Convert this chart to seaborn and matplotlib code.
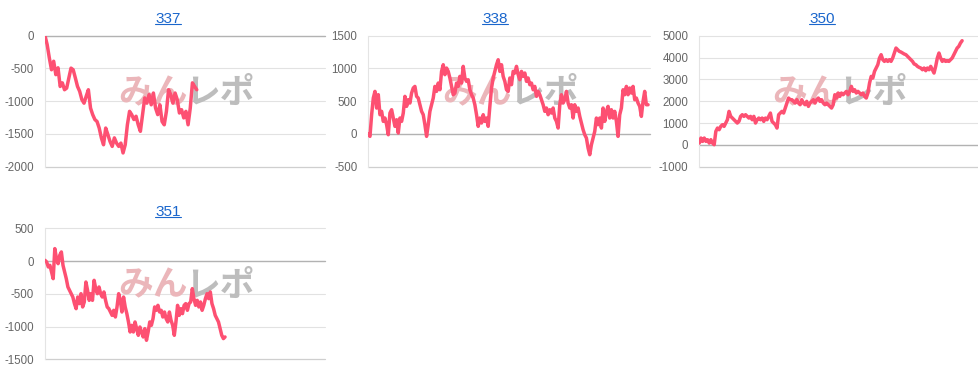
import matplotlib
matplotlib.use("Agg")
import matplotlib.pyplot as plt
import matplotlib.transforms as mtransforms
from matplotlib.lines import Line2D
import pandas as pd
import seaborn as sns

# ---------------- data ----------------
titles = ["337", "338", "350", "351"]

s337 = [0, -137, -340, -520, -390, -595, -490, -775, -720, -825, -800, -645, -495, -520,
        -645, -775, -850, -975, -1030, -925, -825, -1105, -1205, -1280, -1310, -1410,
        -1560, -1665, -1410, -1510, -1615, -1690, -1560, -1640, -1690, -1640, -1790,
        -1665, -1360, -1155, -1205, -1280, -1230, -1360, -1460, -1205, -950, -1030,
        -900, -1055, -875, -1105, -1205, -1055, -1310, -1360, -1155, -825, -900, -1030,
        -875, -975, -1180, -1130, -1255, -1155, -1360, -1105, -720, -775, -825]

s338 = [0, -37, 294, 548, 650, 395, 600, 294, 345, 192, 243, 141, -12, 319, 370, 243, 116,
        217, 14, 243, 192, 319, 574, 421, 523, 472, 624, 701, 726, 574, 548, 446, 345,
        294, 141, -37, 141, 345, 446, 548, 726, 650, 777, 675, 955, 1057, 905, 1006, 955,
        854, 726, 599, 624, 777, 726, 879, 777, 1032, 854, 803, 828, 675, 599, 548, 446,
        294, 116, 243, 167, 294, 192, 243, 116, 421, 701, 854, 955, 1057, 1133, 955, 1057,
        879, 803, 675,
        650, 854, 752, 955, 930, 1032, 905, 828, 955, 879, 930, 803, 854, 752, 777, 675,
        726, 574, 650, 599, 523, 446, 345, 396, 294, 370, 319, 396, 243, 192, 90, 446,
        599, 472, 523, 650, 472, 396, 446, 243, 446, 345, 396, 268, 167, 65, -12, -63,
        -215, -317, -164, -63, 39, 243, 141, 243, 90, 396, 192, 345, 421, 243, 370, 243,
        345, 192, -37, 294, 396, 675, 599, 726, 599, 701, 624, 726, 523, 548, 472, 421,
        268, 497, 650, 446, 446]

s350 = [83, 312, 160, 312, 160, 236, 83, 236, 83, 7, 618, 770, 694, 847, 923, 847, 1000,
        1152, 1534, 1305, 1228, 1152, 1076, 1000, 1076, 1305, 1381, 1305, 1381, 1305,
        1228, 1305, 1152, 1305, 1000, 1152, 1228, 1152, 1228, 1076, 1228, 1152, 1305,
        1457, 1076, 1000, 923, 770, 1381, 1457, 1534, 1457, 1686, 1915, 2145, 2068, 2068,
        1992, 1915, 2068, 1915, 1839, 2068, 1915, 1839, 1992, 1763, 1915, 1992, 2068,
        1915, 2068, 2145, 1992, 2068, 1915, 1839, 1915, 1839, 1763, 1686, 1839,
        2297, 2145, 2374, 2221, 2374, 2297, 2374, 2450, 2297, 2450, 2679, 2450, 2526,
        2374, 2450, 2374, 2297, 2374, 2221, 2145, 2374, 2832, 3137, 3061, 3366, 3519,
        3672, 3977, 4130, 3901, 3824, 3901, 3824, 3901, 3824, 3977, 4206, 4435, 4359,
        4282, 4252, 4206, 4160, 4130, 4053, 3977, 3901, 3824, 3702, 3672, 3595, 3549,
        3519, 3442, 3519, 3397, 3519, 3442, 3595, 3442, 3290, 3595, 3977, 4206, 3977,
        3824, 3901, 3824, 3855, 3824, 3901, 3977, 4130, 4282, 4435, 4511, 4664, 4771]

s351 = [11, -14, -90, -65, -167, -269, 190, 37, -40, 88, 139, -65, -167, -269, -396, -447,
        -498, -549, -650, -727, -549, -650, -498, -701, -625, -320, -447, -600, -498, -600,
        -294, -421, -498, -396, -498, -549, -472, -600, -701, -727, -778, -829, -752, -854,
        -701, -498, -600, -778, -549, -701, -803, -930, -1083, -981, -1083, -930, -1032,
        -1134, -1007, -1083, -1159, -1032, -1210, -1083, -930, -981, -879, -701, -752,
        -676, -778, -752, -854, -778, -879, -930, -778, -905, -981, -1134, -930, -676,
        -829, -727, -803, -676, -650, -752, -650, -625, -421, -574, -676, -600, -701,
        -625, -752, -676, -574, -498, -574, -472, -650, -727, -829, -879, -930, -1032,
        -1134, -1184, -1159]

series = [s337, s338, s350, s351]

yticks_list = [
    [-2000, -1500, -1000, -500, 0],
    [-500, 0, 500, 1000, 1500],
    [-1000, 0, 1000, 2000, 3000, 4000, 5000],
    [-1500, -1000, -500, 0, 500],
]

# ---------------- layout (pixels) ----------------
W, H = 979, 382
# left, top, right, bottom of each plot area
rects = [(45, 35.7, 325, 166.7), (368.3, 35.7, 650, 166.7),
         (699.3, 35.7, 978, 166.7), (45, 228.3, 325, 359.3)]
title_pos = [(168, 22.7), (495, 22.7), (822, 22.7), (168, 215.5)]
data_frac = [0.542, 0.993, 0.943, 0.643]

LINE_COLOR = "#fd5072"

sns.set_theme(style="white")
plt.rcParams["font.family"] = ["Liberation Sans", "DejaVu Sans"]

fig = plt.figure(figsize=(W / 100, H / 100), dpi=100)
fig.patch.set_facecolor("white")

title_texts = []
for i in range(4):
    l, t, r, b = rects[i]
    ax = fig.add_axes([l / W, 1 - b / H, (r - l) / W, (b - t) / H])
    vals = series[i]
    df = pd.DataFrame({"x": range(len(vals)), "y": vals})
    ticks = yticks_list[i]

    # grid lines
    for v in ticks:
        if v == 0:
            col, lw = "#b2b2b2", 1.0
        elif v == ticks[0]:
            col, lw = "#cfcfcf", 0.9
        else:
            col, lw = "#e2e2e2", 0.8
        ax.axhline(v, color=col, lw=lw, zorder=0.5, clip_on=False)

    # watermark
    ax.text(0.51, 0.565, "みん", transform=ax.transAxes, ha="right", va="center",
            fontsize=25, fontweight="bold", color="#ebb6ba",
            family=["Noto Sans CJK JP", "DejaVu Sans"], zorder=1)
    ax.text(0.50, 0.565, "レポ", transform=ax.transAxes, ha="left", va="center",
            fontsize=25, fontweight="bold", color="#bdbdbd",
            family=["Noto Sans CJK JP", "DejaVu Sans"], zorder=1)

    sns.lineplot(data=df, x="x", y="y", ax=ax, color=LINE_COLOR, lw=2.5, zorder=3)

    n = len(vals)
    ax.set_xlim(0, (n - 1) / data_frac[i])
    ax.set_ylim(ticks[0], ticks[-1])
    ax.set_yticks(ticks)
    ax.set_yticklabels([str(v) for v in ticks])
    ax.set_xticks([])
    ax.set_xlabel("")
    ax.set_ylabel("")
    ax.tick_params(axis="y", length=0, pad=7.9, labelsize=8.3, labelcolor="#666666")
    for s in ["top", "right", "bottom"]:
        ax.spines[s].set_visible(False)
    ax.spines["left"].set_color("#e4e4e4")
    ax.spines["left"].set_linewidth(0.8)
    ax.set_facecolor("none")

    tx, ty = title_pos[i]
    tt = fig.text(tx / W, 1 - ty / H, titles[i], ha="center", va="baseline",
                  fontsize=11, color="#1a66cc")
    title_texts.append(tt)

# underline titles (link style)
fig.canvas.draw()
renderer = fig.canvas.get_renderer()
for tt in title_texts:
    bb = tt.get_window_extent(renderer)
    base_y = H * (tt.get_position()[1])
    y = base_y - 1.6
    fig.add_artist(Line2D([bb.x0, bb.x1], [y, y], color="#1a66cc", lw=0.8,
                          transform=mtransforms.IdentityTransform()))

fig.savefig("out.png", dpi=100, facecolor="white")
